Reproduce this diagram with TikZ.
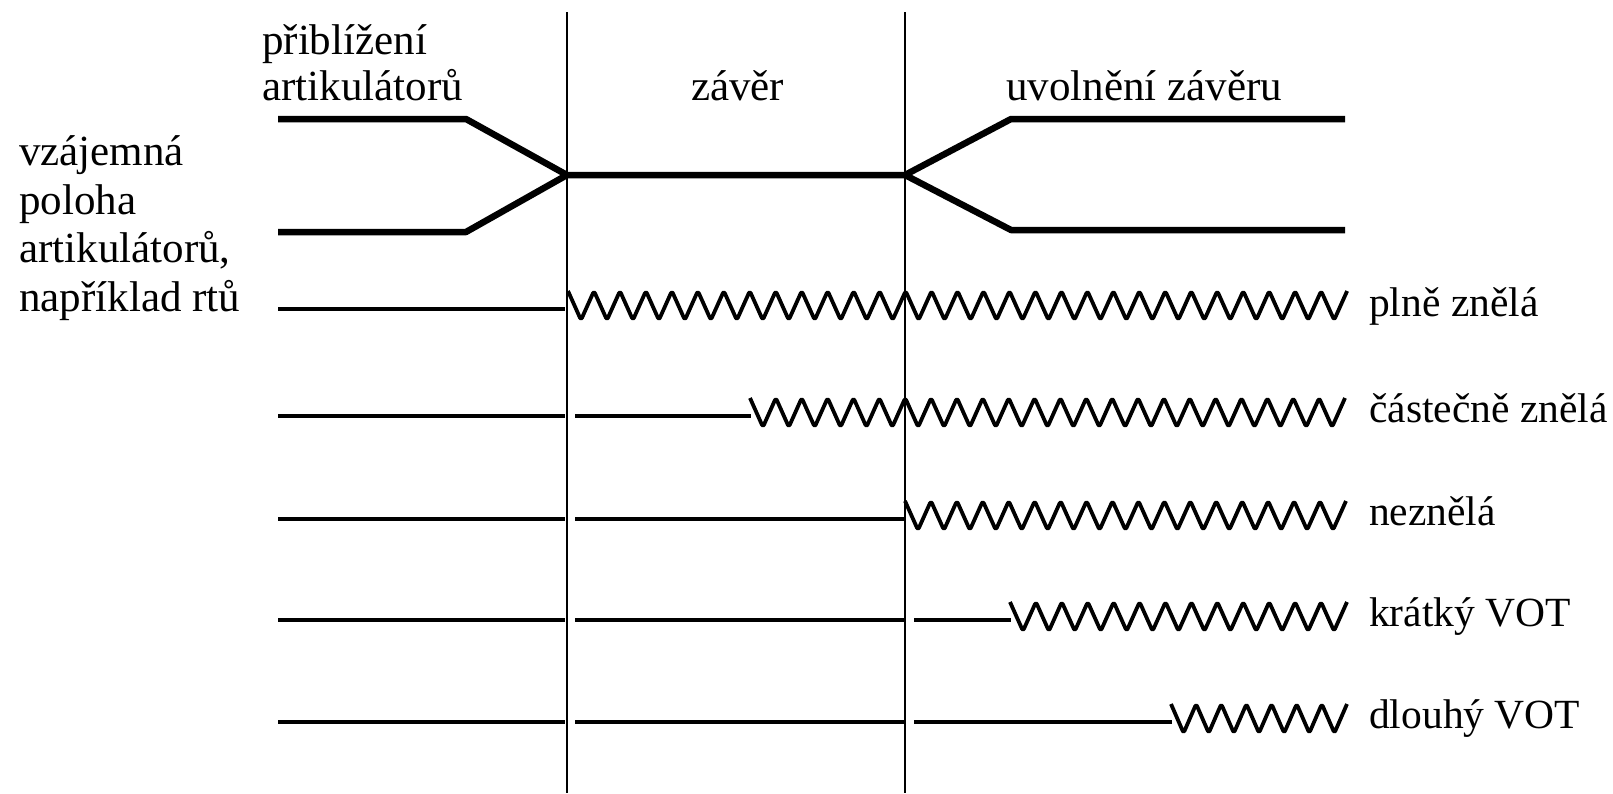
\documentclass[tikz,border=0pt]{standalone}
\usepackage{fontspec}
\setmainfont{Liberation Serif}
\newcommand\wavepath[4]{% start x, row y, cycles, period
  \draw[wave] (#1,#2-18) \foreach \i in {1,...,#3}{ -- ++(#4/2,29) -- ++(#4/2,-29)};}
\begin{document}
\begin{tikzpicture}[x=1pt,y=-1pt,
  lbl/.style={anchor=base west, inner sep=0pt, font=\fontsize{43}{48}\selectfont},
  rlbl/.style={anchor=base west, inner sep=0pt, font=\fontsize{41.5}{46}\selectfont},
  art/.style={line width=6.5pt, line join=round},
  flat/.style={line width=4.5pt},
  wave/.style={line width=3.8pt, rounded corners=2.5pt, line join=round},
  sep/.style={line width=1.3pt}]
\useasboundingbox[fill=white] (0,0) rectangle (1613,793);
% separators
\coordinate (s1t) at (567,12); \coordinate (s1b) at (567,793);
\coordinate (s2t) at (905,12); \coordinate (s2b) at (905,793);
\draw[sep] (s1t) -- (s1b);
\draw[sep] (s2t) -- (s2b);
% header texts
\node[lbl] (h1) at (262,54) {přiblížení};
\node[lbl] (h2) at (262,100) {artikulátorů};
\node[lbl] (h3) at (691,100) {závěr};
\node[lbl] (h4) at (1006,100) {uvolnění závěru};
% left texts
\node[lbl] (l1) at (19,165) {vzájemná};
\node[lbl] (l2) at (19,214) {poloha};
\node[lbl] (l3) at (19,262) {artikulátorů,};
\node[lbl] (l4) at (19,311) {například rtů};
% articulators
\coordinate (ua) at (278,119); \coordinate (ub) at (466,119);
\coordinate (la) at (278,232); \coordinate (lb) at (466,232);
\coordinate (c1) at (567,175); \coordinate (c2) at (905,175);
\coordinate (ru) at (1011,119); \coordinate (rue) at (1345,119);
\coordinate (rl) at (1011,230); \coordinate (rle) at (1345,230);
\draw[art] (ua) -- (ub) -- (c1) -- (c2) -- (ru) -- (rue);
\draw[art] (la) -- (lb) -- (c1);
\draw[art] (c2) -- (rl) -- (rle);
% row 1: plne znela
\draw[flat] (278,309) -- (565,309);
\wavepath{568}{309}{30}{25.97}
\node[rlbl] (r1) at (1369,316) {plně znělá};
% row 2
\draw[flat] (278,416) -- (565,416);
\draw[flat] (575,416) -- (751,416);
\wavepath{750}{416}{23}{25.87}
\node[rlbl] (r2) at (1369,422) {částečně znělá};
% row 3
\draw[flat] (278,519) -- (565,519);
\draw[flat] (575,519) -- (905,519);
\wavepath{905}{519}{17}{25.94}
\node[rlbl] (r3) at (1369,525) {neznělá};
% row 4
\draw[flat] (278,620) -- (565,620);
\draw[flat] (575,620) -- (904,620);
\draw[flat] (914,620) -- (1011,620);
\wavepath{1010}{620}{13}{25.92}
\node[rlbl] (r4) at (1369,626) {krátký VOT};
% row 5
\draw[flat] (278,722) -- (565,722);
\draw[flat] (575,722) -- (904,722);
\draw[flat] (914,722) -- (1172,722);
\wavepath{1171}{722}{7}{25.14}
\node[rlbl] (r5) at (1369,728) {dlouhý VOT};
\end{tikzpicture}
\end{document}
